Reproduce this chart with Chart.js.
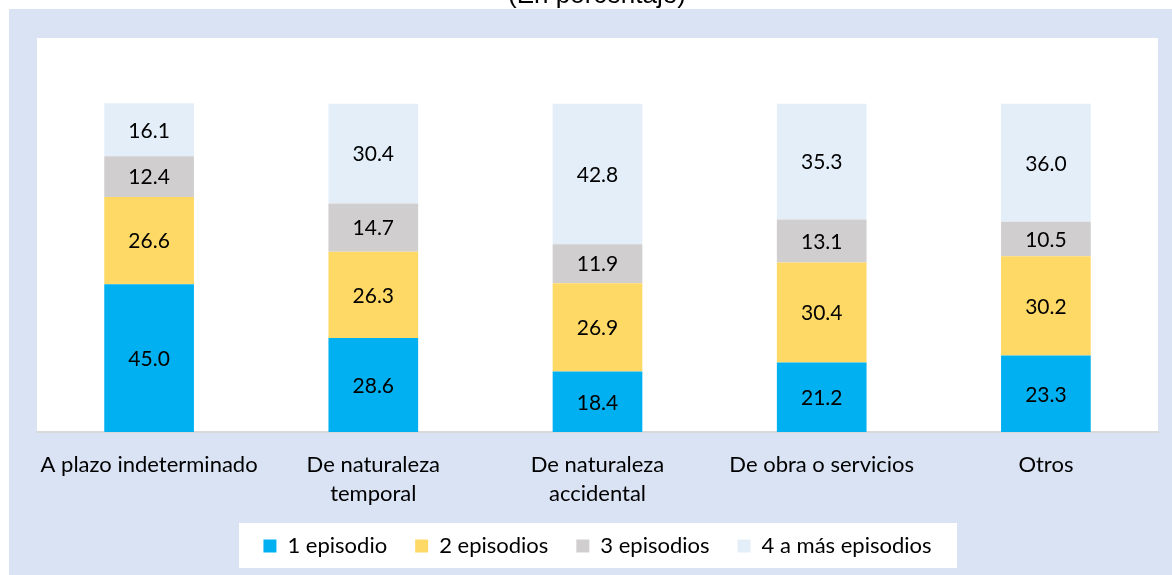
<!DOCTYPE html>
<html>
<head>
<meta charset="utf-8">
<script src="https://cdn.jsdelivr.net/npm/chart.js@4.4.0/dist/chart.umd.min.js"></script>
<style>
  html, body { margin: 0; padding: 0; background: #ffffff; }
  #wrap { width: 1172px; height: 575px; position: relative; }
</style>
</head>
<body>
<div id="wrap"><canvas id="c" width="1172" height="575"></canvas></div>
<script>
const categories = [["A plazo indeterminado"], ["De naturaleza", "temporal"], ["De naturaleza", "accidental"], ["De obra o servicios"], ["Otros"]];
const seriesNames = ["1 episodio", "2 episodios", "3 episodios", "4 a más episodios"];
const ep1 = [45.0, 28.6, 18.4, 21.2, 23.3];
const ep2 = [26.6, 26.3, 26.9, 30.4, 30.2];
const ep3 = [12.4, 14.7, 11.9, 13.1, 10.5];
const ep4 = [16.1, 30.4, 42.8, 35.3, 36.0];
const titleText = "(En porcentaje)";

const colors = ["#00b0f0", "#ffd966", "#d0cece", "#e3eef9"];
const FONT = "Lato, 'Open Sans', sans-serif";

const bgPlugin = {
  id: 'bg',
  beforeDraw(chart) {
    const ctx = chart.ctx, a = chart.chartArea;
    ctx.save();
    ctx.fillStyle = '#ffffff';
    ctx.fillRect(0, 0, chart.width, chart.height);
    ctx.fillStyle = '#dae3f3';
    ctx.fillRect(9, 9, chart.width - 9, chart.height - 9);
    ctx.fillStyle = '#ffffff';
    ctx.fillRect(a.left, a.top, a.right - a.left, a.bottom - a.top);
    // legend box
    ctx.fillRect(239, 523, 718, 45);
    // title (clipped at the top)
    ctx.fillStyle = '#000000';
    ctx.font = "26px 'Liberation Sans', Arial, sans-serif";
    ctx.textAlign = 'center';
    ctx.textBaseline = 'alphabetic';
    ctx.fillText(titleText, 597, 3);
    ctx.restore();
  }
};

const labelPlugin = {
  id: 'vals',
  afterDatasetsDraw(chart) {
    const ctx = chart.ctx;
    ctx.save();
    ctx.fillStyle = '#000000';
    ctx.font = "21px " + FONT;
    ctx.textAlign = 'center';
    ctx.textBaseline = 'middle';
    chart.data.datasets.forEach((ds, i) => {
      const meta = chart.getDatasetMeta(i);
      meta.data.forEach((bar, j) => {
        const v = ds.data[j];
        const y = (bar.y + bar.base) / 2;
        ctx.fillText(v.toFixed(1), bar.x, y + 1);
      });
    });
    ctx.restore();
  }
};

const seriesData = [ep1, ep2, ep3, ep4];

new Chart(document.getElementById('c'), {
  type: 'bar',
  data: {
    labels: categories,
    datasets: seriesNames.map((n, i) => ({
      label: n,
      data: seriesData[i],
      backgroundColor: colors[i],
      borderWidth: 0,
      barPercentage: 0.4,
      categoryPercentage: 1.0
    }))
  },
  options: {
    responsive: false,
    animation: false,
    devicePixelRatio: 1,
    layout: { padding: { left: 37, right: 14, top: 38, bottom: 8 } },
    plugins: {
      legend: {
        position: 'bottom',
        labels: {
          boxWidth: 13,
          boxHeight: 13,
          padding: 28,
          color: '#000000',
          font: { family: FONT, size: 22 }
        }
      },
      tooltip: { enabled: false },
      title: { display: false }
    },
    scales: {
      x: {
        stacked: true,
        grid: { display: false },
        border: { display: true, color: '#d9d9d9', width: 2 },
        ticks: {
          color: '#000000',
          padding: 10,
          maxRotation: 0,
          autoSkip: false,
          font: { family: FONT, size: 22, lineHeight: 1.32 }
        },
        afterFit(scale) { scale.height = 75; }
      },
      y: {
        stacked: true,
        display: false,
        min: 0,
        max: 120
      }
    }
  },
  plugins: [bgPlugin, labelPlugin]
});
</script>
</body>
</html>
